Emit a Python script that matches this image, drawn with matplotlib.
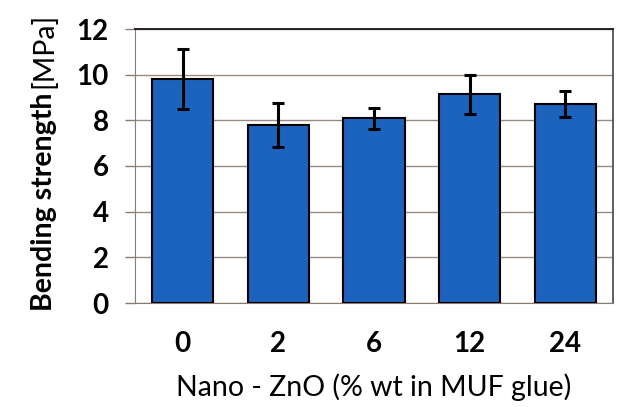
import matplotlib
matplotlib.use('Agg')
import matplotlib.pyplot as plt
import numpy as np

# data
categories = ['0', '2', '6', '12', '24']
strength = [9.81, 7.80, 8.09, 9.14, 8.73]
errors = [1.33, 0.96, 0.47, 0.85, 0.57]
y_ticks = [0, 2, 4, 6, 8, 10, 12]

plt.rcParams['font.family'] = ['Lato', 'DejaVu Sans']

fig = plt.figure(figsize=(6.44, 4.07), dpi=100)
ax = fig.add_axes([135 / 644, 1 - 303 / 407, 478 / 644, 274 / 407])

x = np.arange(len(categories))
ax.bar(x, strength, width=0.64, color='#1c63be', edgecolor='black',
       linewidth=1.5, zorder=3)
ax.errorbar(x, strength, yerr=errors, fmt='none', ecolor='black',
            elinewidth=2.2, capsize=4, capthick=2.2, zorder=4)

ax.set_xlim(-0.5, len(categories) - 0.5)
ax.set_ylim(0, 12)
ax.set_yticks(y_ticks)
ax.set_xticks(x)
ax.set_xticklabels(categories, fontsize=20, fontweight='bold')
ax.set_yticklabels([str(t) for t in y_ticks], fontsize=20, fontweight='bold')
ax.tick_params(axis='x', length=0, pad=20)
ax.tick_params(axis='y', length=7, width=1, color='#8a7a72', pad=12)
ax.grid(axis='y', color='#9a8a84', linewidth=1, zorder=0)

ax.spines['top'].set_color('#222222')
ax.spines['top'].set_linewidth(1.4)
ax.spines['right'].set_color('#444444')
ax.spines['right'].set_linewidth(1.2)
ax.spines['left'].set_color('#8a7a72')
ax.spines['bottom'].set_color('#8a7a72')

ax.set_xlabel('Nano - ZnO (% wt in MUF glue)', fontsize=20.5, labelpad=12)

# y label: bold part plus normal unit
t1 = fig.text(44 / 644, 1 - 311 / 407, 'Bending strength', rotation=90,
              fontsize=20.5, fontweight='bold', ha='center', va='bottom')
fig.canvas.draw()
bb = t1.get_window_extent(fig.canvas.get_renderer())
fig.text(44 / 644, (bb.y1 + 5) / fig.bbox.height, '[MPa]', rotation=90,
         fontsize=20.5, ha='center', va='bottom')

fig.savefig('out.png', dpi=100)
